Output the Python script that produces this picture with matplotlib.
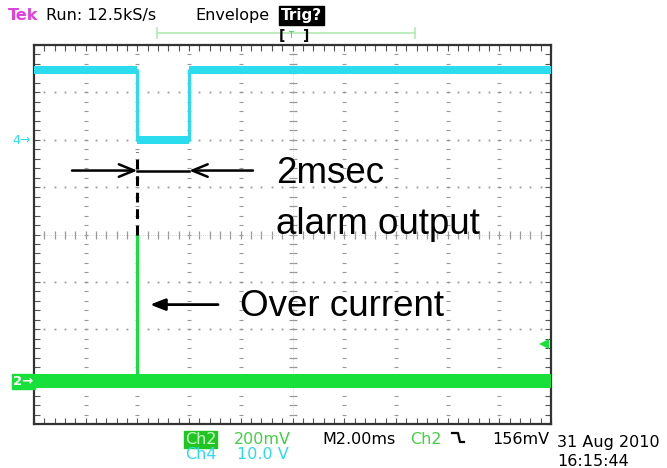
import numpy as np
import matplotlib
matplotlib.use("Agg")
import matplotlib.pyplot as plt
from matplotlib.lines import Line2D

# ---------------- data ----------------
# Ch4 (alarm output), 10 V/div, ground marker at +2.0 div
ch4_time_ms = [0, 4, 4, 6, 6, 20]
ch4_volts = [14.7, 14.7, 0.0, 0.0, 14.7, 14.7]
ch4_vdiv = 10.0
ch4_offset_div = 2.0

# Ch2 (over current), 200 mV/div, ground marker at -3.09 div
ch2_time_ms = [0, 4, 4, 4, 20]
ch2_mv = [0.0, 0.0, 618.0, 0.0, 0.0]
ch2_vdiv = 200.0
ch2_offset_div = -3.09
trigger_mv = 156.0

# envelope half width (div)
ch4_env = 0.085
ch2_env = 0.14

time_per_div_ms = 2.0
n_xdiv, n_ydiv = 10, 8

CYAN = "#2adcee"
GREEN = "#18e03a"
GRID = "#999999"

W, H = 667, 468
fig = plt.figure(figsize=(W / 100, H / 100), dpi=100)
fig.patch.set_facecolor("white")

def fx(px):
    return px / W

def fy(py):
    return 1 - py / H

ax = fig.add_axes([fx(34), fy(424), (551 - 34) / W, (424 - 45) / H])
xmax = n_xdiv * time_per_div_ms
ax.set_xlim(0, xmax)
ax.set_ylim(-n_ydiv / 2, n_ydiv / 2)
for s in ax.spines.values():
    s.set_color("#333333")
    s.set_linewidth(1.6)
ax.set_xticks(np.arange(0, xmax + 0.01, time_per_div_ms / 5))
ax.set_yticks(np.arange(-4, 4.01, 0.2))
ax.tick_params(direction="in", length=4, width=0.8, color="#555555",
               top=True, right=True, labelbottom=False, labelleft=False)

# dotted graticule
ydots = np.arange(-4, 4.001, 0.2)
xdots = np.arange(0, xmax + 0.001, time_per_div_ms / 5)
for i in range(1, n_xdiv):
    gx = i * time_per_div_ms
    if i == n_xdiv // 2:
        ax.plot([gx] * len(ydots), ydots, ls="none", marker="_", ms=6,
                mew=0.9, color=GRID, zorder=1)
        ax.plot([gx, gx], [-4, 4], color="#b8b8b8", lw=0.5, ls=(0, (1, 2)), zorder=1)
    else:
        ax.plot([gx] * len(ydots), ydots, ls="none", marker="_", ms=2.2,
                color=GRID, mew=0.8, zorder=1)
for j in range(-3, 4):
    if j == 0:
        ax.plot(xdots, [0] * len(xdots), ls="none", marker="|", ms=6,
                mew=0.9, color=GRID, zorder=1)
        ax.plot([0, xmax], [0, 0], color="#b8b8b8", lw=0.5, ls=(0, (1, 2)), zorder=1)
    else:
        ax.plot(xdots, [j] * len(xdots), ls="none", marker="s", ms=1.3,
                color=GRID, mew=0, zorder=1)

# traces
ch4_div = np.array(ch4_volts) / ch4_vdiv + ch4_offset_div
ch2_div = np.array(ch2_mv) / ch2_vdiv + ch2_offset_div
ax.fill_between(ch4_time_ms, ch4_div - ch4_env, ch4_div + ch4_env,
                color=CYAN, lw=0, zorder=3)
ax.plot(ch4_time_ms, ch4_div, color=CYAN, lw=2.2, zorder=3)
ax.fill_between([ch2_time_ms[0], ch2_time_ms[-1]],
                [ch2_offset_div - ch2_env] * 2, [ch2_offset_div + ch2_env] * 2,
                color=GREEN, lw=0, zorder=3)
ax.plot(ch2_time_ms, ch2_div, color=GREEN, lw=2.0, zorder=3)

# trigger level marker on right edge
trig_div = trigger_mv / ch2_vdiv + ch2_offset_div
ax.plot([xmax - 0.27], [trig_div], marker="<", ms=6.5, color=GREEN, mew=0, zorder=4)

# annotations (black)
edge0, edge1 = ch4_time_ms[1], ch4_time_ms[3]
ax.plot([edge0, edge0], [0.0, ch4_offset_div - 0.25], color="black", lw=2.2,
        ls=(0, (3.2, 2.2)), zorder=5)
yarr = 1.35
ax.annotate("", xy=(edge0, yarr), xytext=(1.47, yarr),
            arrowprops=dict(arrowstyle="->,head_length=1.1,head_width=0.45",
                            lw=1.8, color="black", shrinkA=0, shrinkB=0), zorder=5)
ax.annotate("", xy=(edge1, yarr), xytext=(8.47, yarr),
            arrowprops=dict(arrowstyle="->,head_length=1.1,head_width=0.45",
                            lw=1.8, color="black", shrinkA=0, shrinkB=0), zorder=5)
ax.plot([edge0, edge1], [yarr, yarr], color="black", lw=1.8, zorder=5)
ax.text(9.36, 1.08, "2msec", fontsize=26.5, family="Liberation Sans",
        color="black", va="baseline", ha="left", zorder=6)
ax.text(9.36, 0.02, "alarm output", fontsize=26.5, family="Liberation Sans",
        color="black", va="baseline", ha="left", zorder=6)
ax.annotate("", xy=(4.49, -1.48), xytext=(7.12, -1.48),
            arrowprops=dict(arrowstyle="-|>,head_length=0.9,head_width=0.35",
                            lw=2.0, color="black", shrinkA=0, shrinkB=0), zorder=5)
ax.text(7.97, -1.71, "Over current", fontsize=26.5, family="Liberation Sans",
        color="black", va="baseline", ha="left", zorder=6)

# ----- header -----
fs = 11.5
fig.text(fx(8), fy(20), "Tek", color="#e040e0", fontsize=fs, va="baseline",
         fontweight="bold")
fig.text(fx(46), fy(20), "Run: 12.5kS/s", color="black", fontsize=fs, va="baseline")
fig.text(fx(195), fy(20), "Envelope", color="black", fontsize=fs, va="baseline")
fig.text(fx(281), fy(20), "Trig?", color="white", fontsize=fs - 0.5, va="baseline",
         fontweight="bold",
         bbox=dict(boxstyle="square,pad=0.1", fc="black", ec="black"))
# record-length bar
fig.add_artist(Line2D([fx(157), fx(415)], [fy(33), fy(33)], color="#b8ecb8", lw=1.3))
for px in (157, 415):
    fig.add_artist(Line2D([fx(px), fx(px)], [fy(28), fy(38)], color="#b8ecb8", lw=1.3))
fig.text(fx(279), fy(40), "[", color="black", fontsize=10, va="baseline", fontweight="bold")
fig.text(fx(303), fy(40), "]", color="black", fontsize=10, va="baseline", fontweight="bold")
fig.text(fx(288), fy(38), "T", color=GREEN, fontsize=6, va="baseline")

# ----- left channel markers -----
fig.text(fx(12), fy(144), "4\u2192", color=CYAN, fontsize=9, va="baseline")
fig.text(fx(13), fy(385), "2\u2192", color="white", fontsize=9.5, va="baseline",
         fontweight="bold",
         bbox=dict(boxstyle="square,pad=0.1", fc=GREEN, ec=GREEN))

# ----- bottom readout -----
fig.text(fx(185), fy(444), "Ch2", color="#c8ffc8", fontsize=fs, va="baseline",
         bbox=dict(boxstyle="square,pad=0.05", fc="#22c422", ec="#22c422"))
fig.text(fx(234), fy(444), "200mV", color="#44d044", fontsize=fs, va="baseline")
fig.text(fx(185), fy(459), "Ch4", color=CYAN, fontsize=fs, va="baseline")
fig.text(fx(237), fy(459), "10.0 V", color=CYAN, fontsize=fs, va="baseline")
fig.text(fx(322), fy(444), "M2.00ms", color="black", fontsize=fs, va="baseline")
fig.text(fx(410), fy(444), "Ch2", color="#44d044", fontsize=fs, va="baseline")
fig.add_artist(Line2D([fx(452), fx(458), fx(460), fx(464)],
                      [fy(433), fy(433), fy(442), fy(442)], color="black", lw=1.6))
fig.text(fx(492), fy(444), "156mV", color="black", fontsize=fs, va="baseline")
fig.text(fx(557), fy(447), "31 Aug 2010", color="black", fontsize=fs, va="baseline")
fig.text(fx(557), fy(466), "16:15:44", color="black", fontsize=fs, va="baseline")

fig.savefig("out.png", dpi=100)
